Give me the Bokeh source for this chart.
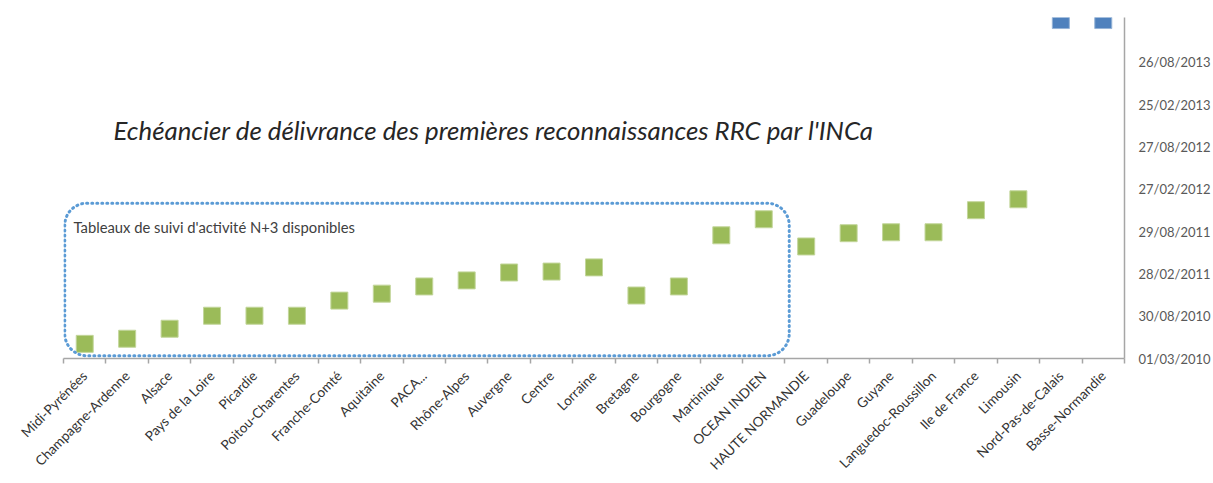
import numpy as np
import pandas as pd
from math import pi
from bokeh.plotting import figure
from bokeh.models import (Range1d, FixedTicker, LinearAxis, DatetimeAxis, DatetimeTickFormatter,
                          BoxAnnotation, Label, ColumnDataSource)
from bokeh.embed import file_html
from bokeh.resources import INLINE

regions = ["Midi-Pyrénées", "Champagne-Ardenne", "Alsace", "Pays de la Loire", "Picardie",
           "Poitou-Charentes", "Franche-Comté", "Aquitaine", "PACA...", "Rhône-Alpes",
           "Auvergne", "Centre", "Lorraine", "Bretagne", "Bourgogne", "Martinique",
           "OCEAN INDIEN", "HAUTE NORMANDIE", "Guadeloupe", "Guyane", "Languedoc-Roussillon",
           "Ile de France", "Limousin", "Nord-Pas-de-Calais", "Basse-Normandie"]

recognition_dates = ["2010-05-03", "2010-05-25", "2010-07-07", "2010-09-01", "2010-09-01",
                     "2010-09-01", "2010-11-05", "2010-12-05", "2011-01-05", "2011-01-31",
                     "2011-03-06", "2011-03-10", "2011-03-28", "2010-11-27", "2011-01-05",
                     "2011-08-13", "2011-10-21", "2011-06-26", "2011-08-22", "2011-08-26",
                     "2011-08-26", "2011-11-29", "2012-01-15", None, None]

pending_regions = ["Nord-Pas-de-Calais", "Basse-Normandie"]
pending_dates = ["2014-02-24", "2014-02-24"]

y_tick_dates = ["2010-03-01", "2010-08-30", "2011-02-28", "2011-08-29",
                "2012-02-27", "2012-08-27", "2013-02-25", "2013-08-26"]

y_start, y_end = "2010-03-01", "2014-03-07"

def ms(d):
    return pd.Timestamp(d).value / 1e6

idx = {r: i for i, r in enumerate(regions)}
done = [(r, d) for r, d in zip(regions, recognition_dates) if d is not None]
src_done = ColumnDataSource(dict(x=[idx[r] + 0.5 for r, _ in done],
                                 y=pd.to_datetime([d for _, d in done])))
src_pend = ColumnDataSource(dict(x=[idx[r] + 0.5 for r in pending_regions],
                                 y=pd.to_datetime(pending_dates)))

p = figure(width=1213, height=483, output_backend="svg", toolbar_location=None,
           x_range=Range1d(0, len(regions)),
           y_range=Range1d(ms(y_start), ms(y_end)),
           x_axis_location=None, y_axis_location=None)
p.min_border_left = 63
p.min_border_right = 87
p.min_border_top = 17
p.min_border_bottom = 125
p.outline_line_color = None
p.xgrid.visible = False
p.ygrid.visible = False
p.background_fill_color = "white"
p.border_fill_color = "white"

axis_color = "#A6A6A6"
font = "Lato"

# x axis
xaxis = LinearAxis(ticker=FixedTicker(ticks=[i + 0.5 for i in range(len(regions))],
                                      minor_ticks=list(range(len(regions) + 1))))
xaxis.major_label_overrides = {i + 0.5: r for i, r in enumerate(regions)}
xaxis.major_tick_line_color = None
xaxis.minor_tick_line_color = axis_color
xaxis.minor_tick_line_width = 1.5
xaxis.minor_tick_in = 0
xaxis.minor_tick_out = 5
xaxis.axis_line_color = axis_color
xaxis.axis_line_width = 1.5
xaxis.major_label_orientation = pi / 4
xaxis.major_label_text_font = font
xaxis.major_label_text_font_size = "13.6px"
xaxis.major_label_text_color = "#333333"
xaxis.major_label_standoff = 9
p.add_layout(xaxis, "below")

# y axis (right)
fmt = "%d/%m/%Y"
yaxis = DatetimeAxis(ticker=FixedTicker(ticks=[ms(d) for d in y_tick_dates]),
                     formatter=DatetimeTickFormatter(microseconds=fmt, milliseconds=fmt, seconds=fmt,
                                                     minsec=fmt, minutes=fmt, hourmin=fmt, hours=fmt,
                                                     days=fmt, months=fmt, years=fmt))
yaxis.major_tick_line_color = None
yaxis.minor_tick_line_color = None
yaxis.axis_line_color = axis_color
yaxis.axis_line_width = 1.5
yaxis.major_label_text_font = font
yaxis.major_label_text_font_size = "13px"
yaxis.major_label_text_color = "#595959"
yaxis.major_label_standoff = 8
p.add_layout(yaxis, "right")

# box annotation
box = BoxAnnotation(left=0.03, right=17.1, top=ms("2011-12-29"), bottom=ms("2010-03-13"),
                    fill_color=None, fill_alpha=0, line_color="#5B9BD5", line_alpha=1,
                    line_width=3, line_dash="1 4", line_cap="round", border_radius=22)
p.add_layout(box)

p.scatter("x", "y", source=src_done, marker="square", size=17,
          fill_color="#9BBB59", line_color="#C3D69B", line_width=1)
p.scatter("x", "y", source=src_pend, marker="square", size=17,
          fill_color="#4F81BD", line_color="#95B3D7", line_width=1)

p.add_layout(Label(x=1.18, y=ms("2012-11-08"), text="Echéancier de délivrance des premières reconnaissances RRC par l'INCa",
                   text_font=font, text_font_style="italic", text_font_size="25.8px",
                   text_color="#262626", text_baseline="middle", text_align="left"))
p.add_layout(Label(x=0.235, y=ms("2011-09-16"), text="Tableaux de suivi d'activité N+3 disponibles",
                   text_font=font, text_font_size="14.8px",
                   text_color="#404040", text_baseline="middle", text_align="left"))

open("out.html", "w").write(file_html(p, INLINE))
